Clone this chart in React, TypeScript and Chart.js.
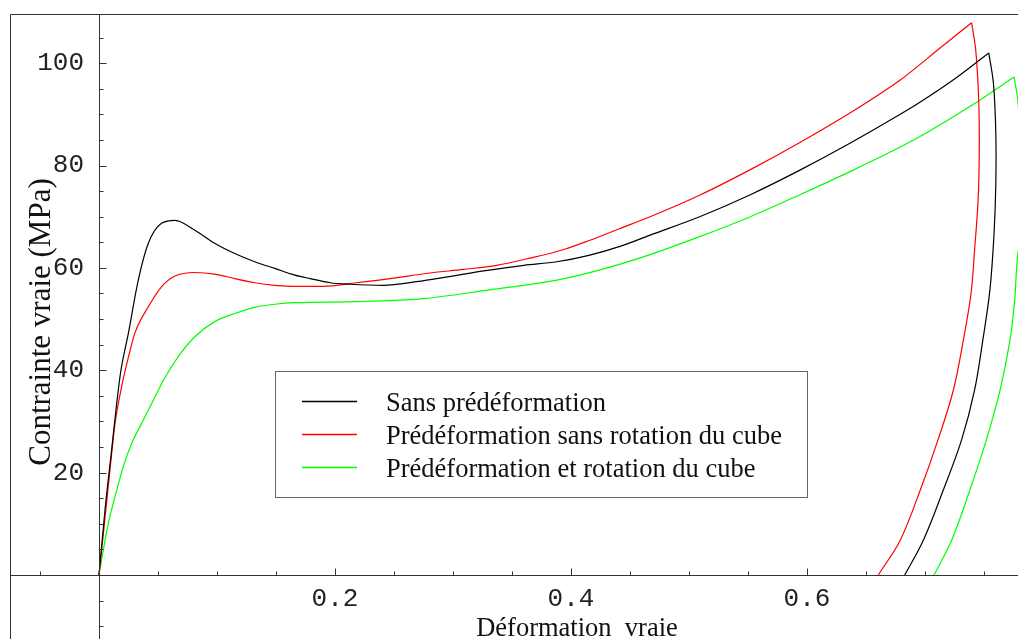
import React, { useEffect, useRef } from 'react';
import { Chart, registerables } from 'chart.js';

Chart.register(...registerables);

// ---- Data ----
const BLACK_STRAIN = [0, 0.0051, 0.0107, 0.015, 0.0186, 0.0249, 0.0333, 0.0418, 0.053, 0.0644, 0.081, 0.098, 0.115, 0.132, 0.149, 0.166, 0.179, 0.196, 0.213, 0.241, 0.269, 0.297, 0.326, 0.36, 0.388, 0.416, 0.4415, 0.467, 0.509, 0.552, 0.594, 0.636, 0.679, 0.696, 0.725, 0.754, 0.758, 0.76, 0.76, 0.7585, 0.755, 0.749, 0.742, 0.731, 0.7155, 0.6986, 0.6828];
const BLACK_STRESS = [0, 12.7, 24.4, 33.5, 40, 47.2, 57.6, 64.8, 68.7, 69.3, 67.4, 64.8, 62.8, 61.2, 59.9, 58.6, 57.9, 57.1, 56.8, 56.6, 57.3, 58.3, 59.4, 60.5, 61.2, 62.5, 64.2, 66.4, 70.0, 74.3, 79.1, 84.3, 90.0, 92.4, 96.9, 102.0, 96, 86.3, 76.5, 66.7, 55.7, 45.9, 36.1, 26.4, 16.6, 6.8, 0];

const RED_STRAIN = [0, 0.0046, 0.0093, 0.0136, 0.0192, 0.025, 0.0305, 0.0418, 0.053, 0.0644, 0.081, 0.098, 0.115, 0.132, 0.149, 0.166, 0.19, 0.218, 0.2466, 0.2805, 0.309, 0.337, 0.365, 0.394, 0.416, 0.4415, 0.467, 0.509, 0.552, 0.594, 0.636, 0.679, 0.713, 0.7395, 0.743, 0.7455, 0.746, 0.745, 0.742, 0.739, 0.7325, 0.724, 0.711, 0.696, 0.679, 0.6604];
const RED_STRESS = [0, 10, 20.5, 29.6, 36.8, 42.6, 47.3, 52.4, 56.3, 58.4, 59.1, 58.8, 57.9, 57.1, 56.6, 56.4, 56.4, 57.1, 57.9, 59.0, 59.7, 60.5, 61.9, 63.6, 65.4, 67.7, 70.0, 74.2, 79.2, 84.5, 90.2, 96.7, 103, 107.9, 102.5, 92.8, 83, 73.2, 63.5, 55, 45.9, 36.1, 26.4, 16.6, 6.8, 0];

const GREEN_STRAIN = [0, 0.0079, 0.0136, 0.0206, 0.0277, 0.039, 0.0503, 0.0545, 0.067, 0.081, 0.098, 0.115, 0.132, 0.149, 0.166, 0.218, 0.275, 0.331, 0.388, 0.4246, 0.467, 0.509, 0.552, 0.594, 0.64, 0.679, 0.7014, 0.74, 0.7754, 0.7785, 0.781, 0.782, 0.7805, 0.7777, 0.776, 0.772, 0.7636, 0.752, 0.738, 0.7226, 0.7076];
const GREEN_STRESS = [0, 10.1, 15.3, 21.2, 25.7, 30.9, 36.1, 38, 42.6, 46.5, 49.5, 51.1, 52.3, 52.9, 53.2, 53.4, 54.0, 55.7, 57.6, 59.6, 62.6, 66.1, 70.0, 74.3, 79.2, 83.6, 86.4, 91.8, 97.3, 93, 85, 76, 67, 60.2, 53.7, 45.9, 36.1, 26.4, 16.6, 6.8, 0];

const SERIES_LABELS = ['Sans prédéformation', 'Prédéformation sans rotation du cube', 'Prédéformation et rotation du cube'];
const SERIES_COLORS = ['#000000', '#ff0000', '#00ff00'];

const X_TICKS = [-0.05, 0.05, 0.1, 0.15, 0.2, 0.25, 0.3, 0.35, 0.4, 0.45, 0.5, 0.55, 0.6, 0.65, 0.7, 0.75];
const X_LABELED = [0.2, 0.4, 0.6];
const X_TICK_LABELS = ['0.2', '0.4', '0.6'];
const Y_TICKS = [-10, -5, 5, 10, 15, 20, 25, 30, 35, 40, 45, 50, 55, 60, 65, 70, 75, 80, 85, 90, 95, 100, 105];
const Y_LABELED = [20, 40, 60, 80, 100];
const Y_TICK_LABELS = ['20', '40', '60', '80', '100'];
const X_MIN = -0.0754;
const X_MAX = 0.7788;
const Y_MIN = -12.5;
const Y_MAX = 109.6;
// strain at which the y tick labels end (labels sit left of the y axis)
const Y_LABEL_ANCHOR = -0.0127;

const X_TITLE = 'Déformation  vraie';
const Y_TITLE = 'Contrainte vraie (MPa)';

const SERIF = "'Liberation Serif', 'Times New Roman', serif";
const MONO = "'Liberation Mono', 'Courier New', monospace";

function toPoints(xs: number[], ys: number[]) {
  return xs.map((v, i) => ({ x: v, y: ys[i] }));
}

function labelIndex(list: number[], v: number) {
  return list.findIndex((m) => Math.abs(m - v) < 1e-9);
}

const overlayPlugin = {
  id: 'overlay',
  afterDraw(chart: any) {
    const { ctx, chartArea: a } = chart;
    const xs = chart.scales.x;
    const ys = chart.scales.y;
    const x0 = Math.round(xs.getPixelForValue(0)) + 0.5;
    const y0 = Math.round(ys.getPixelForValue(0)) + 0.5;
    ctx.save();
    ctx.strokeStyle = '#333333';
    ctx.lineWidth = 1;
    // frame (left + top) and vertical axis line at strain 0
    ctx.beginPath();
    ctx.moveTo(a.left + 0.5, a.bottom);
    ctx.lineTo(a.left + 0.5, a.top + 0.5);
    ctx.lineTo(a.right, a.top + 0.5);
    ctx.moveTo(x0, a.top);
    ctx.lineTo(x0, a.bottom);
    ctx.stroke();
    // tick marks (inward)
    ctx.beginPath();
    xs.ticks.forEach((t: any) => {
      const px = Math.round(xs.getPixelForValue(t.value)) + 0.5;
      const len = labelIndex(X_LABELED, t.value) >= 0 ? 7 : 4;
      ctx.moveTo(px, y0);
      ctx.lineTo(px, y0 - len);
    });
    ys.ticks.forEach((t: any) => {
      const py = Math.round(ys.getPixelForValue(t.value)) + 0.5;
      const len = labelIndex(Y_LABELED, t.value) >= 0 ? 7 : 4;
      ctx.moveTo(x0, py);
      ctx.lineTo(x0 + len, py);
    });
    ctx.stroke();

    // axis titles
    ctx.fillStyle = '#111111';
    ctx.font = `26.5px ${SERIF}`;
    ctx.textAlign = 'center';
    ctx.textBaseline = 'alphabetic';
    ctx.fillText(X_TITLE, 577, 636);
    ctx.save();
    ctx.font = `31px ${SERIF}`;
    ctx.translate(50, 322);
    ctx.rotate(-Math.PI / 2);
    ctx.fillText(Y_TITLE, 0, 0);
    ctx.restore();

    // legend
    const lx = 275, ly = 371, lw = 532, lh = 126;
    ctx.fillStyle = '#ffffff';
    ctx.fillRect(lx, ly, lw, lh);
    ctx.strokeStyle = '#666666';
    ctx.lineWidth = 1;
    ctx.strokeRect(lx + 0.5, ly + 0.5, lw, lh);
    ctx.font = `26.5px ${SERIF}`;
    ctx.textAlign = 'left';
    ctx.textBaseline = 'alphabetic';
    SERIES_LABELS.forEach((label, i) => {
      const rowY = 401 + i * 33;
      ctx.strokeStyle = SERIES_COLORS[i];
      ctx.lineWidth = 1.3;
      ctx.beginPath();
      ctx.moveTo(302, rowY + 0.5);
      ctx.lineTo(357, rowY + 0.5);
      ctx.stroke();
      ctx.fillStyle = '#111111';
      ctx.fillText(label, 386, rowY + 10);
    });
    ctx.restore();
  },
};

const zeroPadding = (s: any) => {
  s.paddingLeft = 0;
  s.paddingRight = 0;
  s.paddingTop = 0;
  s.paddingBottom = 0;
};

function peakIndex(ys: number[]) {
  let k = 0;
  ys.forEach((v, i) => {
    if (v > ys[k]) k = i;
  });
  return k;
}

export default function App() {
  const ref = useRef<HTMLCanvasElement | null>(null);
  useEffect(() => {
    if (!ref.current) return;
    const seriesX = [BLACK_STRAIN, RED_STRAIN, GREEN_STRAIN];
    const seriesY = [BLACK_STRESS, RED_STRESS, GREEN_STRESS];
    const datasets: any[] = [];
    SERIES_LABELS.forEach((label, i) => {
      const pts = toPoints(seriesX[i], seriesY[i]);
      const k = peakIndex(seriesY[i]);
      // loading branch (monotone in strain)
      datasets.push({
        label,
        data: pts.slice(0, k + 1),
        borderColor: SERIES_COLORS[i],
        backgroundColor: SERIES_COLORS[i],
        showLine: true,
        pointRadius: 0,
        borderWidth: 1.2,
        cubicInterpolationMode: 'monotone',
        fill: false,
      });
      // unloading branch
      datasets.push({
        label: label + ' (décharge)',
        data: pts.slice(k),
        borderColor: SERIES_COLORS[i],
        backgroundColor: SERIES_COLORS[i],
        showLine: true,
        pointRadius: 0,
        borderWidth: 1.2,
        tension: 0.35,
        fill: false,
      });
    });
    const chart = new Chart(ref.current, {
      type: 'scatter',
      data: { datasets },
      options: {
        animation: false,
        responsive: false,
        devicePixelRatio: 1,
        layout: { padding: { left: 10, top: 14, right: 0, bottom: 0 } },
        plugins: { legend: { display: false }, tooltip: { enabled: false } },
        scales: {
          x: {
            type: 'linear',
            min: X_MIN,
            max: X_MAX,
            position: { y: 0 } as any,
            grid: { display: false, drawTicks: false },
            border: { display: true, color: '#333333', width: 1 },
            afterBuildTicks: (s: any) => {
              s.ticks = X_TICKS.map((v) => ({ value: v }));
            },
            afterFit: zeroPadding,
            ticks: {
              autoSkip: false,
              maxRotation: 0,
              minRotation: 0,
              padding: 8,
              color: '#222222',
              font: { family: MONO, size: 26 },
              callback: (v: any) => {
                const k = labelIndex(X_LABELED, Number(v));
                return k >= 0 ? X_TICK_LABELS[k] : '';
              },
            },
          },
          y: {
            type: 'linear',
            min: Y_MIN,
            max: Y_MAX,
            position: { x: Y_LABEL_ANCHOR } as any,
            grid: { display: false, drawTicks: false },
            border: { display: false },
            afterBuildTicks: (s: any) => {
              s.ticks = Y_TICKS.map((v) => ({ value: v }));
            },
            afterFit: zeroPadding,
            ticks: {
              autoSkip: false,
              padding: 0,
              color: '#222222',
              font: { family: MONO, size: 26 },
              callback: (v: any) => {
                const k = labelIndex(Y_LABELED, Number(v));
                return k >= 0 ? Y_TICK_LABELS[k] : '';
              },
            },
          },
        },
      },
      plugins: [overlayPlugin],
    });
    return () => chart.destroy();
  }, []);

  return (
    <div style={{ position: 'absolute', left: 0, top: 0, width: 1018, height: 639, background: '#ffffff' }}>
      <canvas ref={ref} width={1018} height={639} style={{ display: 'block', width: 1018, height: 639 }} />
    </div>
  );
}
